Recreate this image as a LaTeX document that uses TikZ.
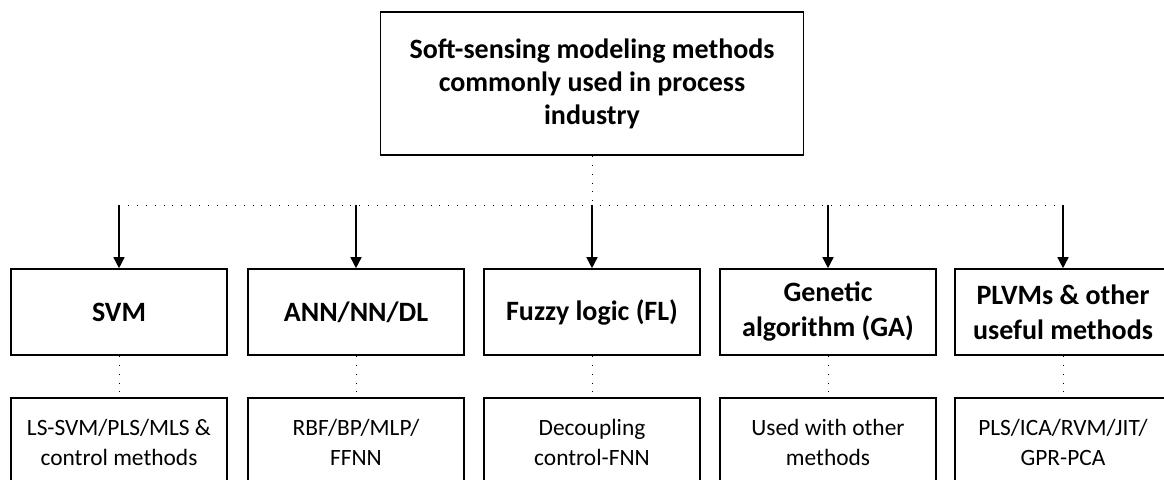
\documentclass[tikz,border=0pt]{standalone}
\usepackage{fontspec}
\setmainfont{Carlito}
\usetikzlibrary{arrows.meta}
\begin{document}
\begin{tikzpicture}[x=1pt,y=1pt,
  box/.style={draw=black,line width=1.6pt,align=center,inner sep=0pt},
  topbox/.style={box,minimum width=423pt,minimum height=143pt,font=\fontsize{28}{33}\selectfont\bfseries},
  midbox/.style={box,minimum width=216pt,minimum height=86pt,font=\fontsize{28}{35}\selectfont\bfseries},
  lowbox/.style={box,minimum width=216pt,minimum height=88pt,font=\fontsize{23.4}{30}\selectfont},
  dots/.style={line width=0.9pt,dash pattern=on 0.9pt off 8pt},
  arr/.style={line width=1.5pt,-{Triangle[length=11pt,width=11pt]}}]
\useasboundingbox (0,0) rectangle (1164,-479);
\node[topbox] (top) at (592,-83.5) {Soft-sensing modeling methods\\commonly used in process\\industry};
\coordinate (jc) at (592,-205);
\coordinate (j1) at (119,-205);
\coordinate (j2) at (356,-205);
\coordinate (j4) at (828,-205);
\coordinate (j5) at (1063,-205);
\node[midbox] (m1) at (119,-312) {SVM};
\node[midbox] (m2) at (356,-312) {ANN/NN/DL};
\node[midbox] (m3) at (592,-312) {Fuzzy logic (FL)};
\node[midbox] (m4) at (828,-312) {Genetic\\algorithm (GA)};
\node[midbox] (m5) at (1063,-312) {PLVMs \& other\\useful methods};
\node[lowbox] (b1) at (119,-442) {LS-SVM/PLS/MLS \&\\control methods};
\node[lowbox] (b2) at (356,-442) {RBF/BP/MLP/\\FFNN};
\node[lowbox] (b3) at (592,-442) {Decoupling\\control-FNN};
\node[lowbox] (b4) at (828,-442) {Used with other\\methods};
\node[lowbox] (b5) at (1063,-442) {PLS/ICA/RVM/JIT/\\GPR-PCA};
\draw[dots] (top.south) -- (jc);
\draw[dots] (j1) -- (j5);
\draw[arr] (j1) -- (m1.north);
\draw[arr] (j2) -- (m2.north);
\draw[arr] (jc) -- (m3.north);
\draw[arr] (j4) -- (m4.north);
\draw[arr] (j5) -- (m5.north);
\foreach \i in {1,...,5} {\draw[dots] (m\i.south) -- (b\i.north);}
\end{tikzpicture}
\end{document}
